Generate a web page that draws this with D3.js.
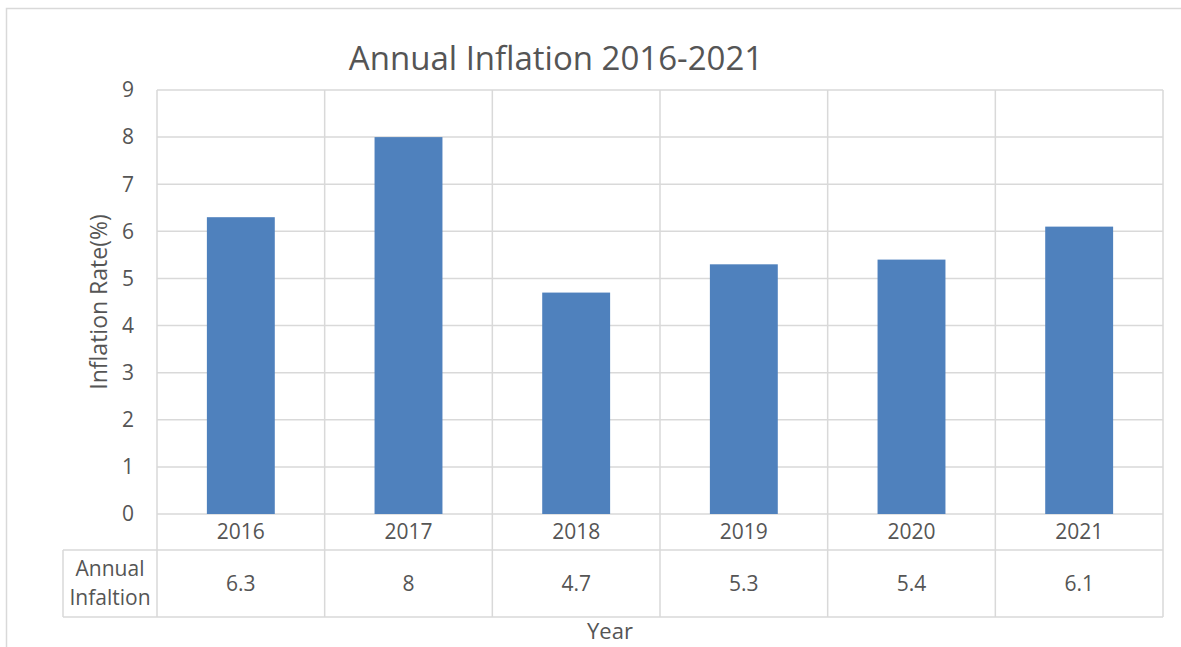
<!DOCTYPE html>
<html>
<head>
<meta charset="utf-8">
<script src="https://cdn.jsdelivr.net/npm/d3@7"></script>
<style>
  body { margin: 0; background: #fff; }
  svg { display: block; font-family: "Open Sans", sans-serif; }
</style>
</head>
<body>
<svg id="chart" width="1181" height="647"></svg>
<script>
// chart data
const years = ['2016', '2017', '2018', '2019', '2020', '2021'];
const inflation = [6.3, 8, 4.7, 5.3, 5.4, 6.1];
const yTicks = [0, 1, 2, 3, 4, 5, 6, 7, 8, 9];
const rowName = ['Annual', 'Infaltion'];

const svg = d3.select('#chart');
const textColor = '#555555';
const gridColor = '#d9d9d9';
const barColor = '#4f81bd';

const plot = { left: 157, right: 1163, top: 90, bottom: 514 };
const table = { left: 63, mid: 550, bottom: 617 };

// outer chart border (clipped by the picture on the right and bottom)
svg.append('path')
  .attr('d', 'M6.5,660 V8.5 H1200')
  .attr('fill', 'none')
  .attr('stroke', gridColor)
  .attr('stroke-width', 1.5);

const x = d3.scaleBand().domain(years).range([plot.left, plot.right]).padding(0);
const y = d3.scaleLinear().domain([0, 9]).range([plot.bottom, plot.top]);

// horizontal grid lines
svg.append('g')
  .selectAll('line')
  .data(yTicks)
  .join('line')
  .attr('x1', plot.left)
  .attr('x2', plot.right)
  .attr('y1', d => y(d))
  .attr('y2', d => y(d))
  .attr('stroke', gridColor)
  .attr('stroke-width', 1.5);

// vertical category lines, running down through the year row and the data table
const bounds = years.map(d => x(d)).concat([plot.right]);
svg.append('g')
  .selectAll('line')
  .data(bounds)
  .join('line')
  .attr('x1', d => d)
  .attr('x2', d => d)
  .attr('y1', plot.top)
  .attr('y2', table.bottom)
  .attr('stroke', gridColor)
  .attr('stroke-width', 1.5);

// table borders
svg.append('g')
  .selectAll('line')
  .data([table.mid, table.bottom])
  .join('line')
  .attr('x1', table.left)
  .attr('x2', plot.right)
  .attr('y1', d => d)
  .attr('y2', d => d)
  .attr('stroke', gridColor)
  .attr('stroke-width', 1.5);
svg.append('line')
  .attr('x1', table.left).attr('x2', table.left)
  .attr('y1', table.mid).attr('y2', table.bottom)
  .attr('stroke', gridColor)
  .attr('stroke-width', 1.5);

// bars
const barW = x.bandwidth() * 0.405;
svg.append('g')
  .selectAll('rect')
  .data(years)
  .join('rect')
  .attr('x', d => x(d) + (x.bandwidth() - barW) / 2)
  .attr('width', barW)
  .attr('y', (d, i) => y(inflation[i]))
  .attr('height', (d, i) => y(0) - y(inflation[i]))
  .attr('fill', barColor);

// y axis tick labels
svg.append('g')
  .selectAll('text')
  .data(yTicks)
  .join('text')
  .attr('x', 134)
  .attr('y', d => y(d))
  .attr('dy', '0.35em')
  .attr('text-anchor', 'end')
  .attr('fill', textColor)
  .attr('font-size', 21)
  .text(d => d);

// year row labels
svg.append('g')
  .selectAll('text')
  .data(years)
  .join('text')
  .attr('x', d => x(d) + x.bandwidth() / 2)
  .attr('y', (plot.bottom + table.mid) / 2)
  .attr('dy', '0.35em')
  .attr('text-anchor', 'middle')
  .attr('fill', textColor)
  .attr('font-size', 21)
  .text(d => d);

// data table values
svg.append('g')
  .selectAll('text')
  .data(years)
  .join('text')
  .attr('x', d => x(d) + x.bandwidth() / 2)
  .attr('y', (table.mid + table.bottom) / 2)
  .attr('dy', '0.35em')
  .attr('text-anchor', 'middle')
  .attr('fill', textColor)
  .attr('font-size', 21)
  .text((d, i) => inflation[i]);

// row header
svg.append('text')
  .attr('text-anchor', 'middle')
  .attr('fill', textColor)
  .attr('font-size', 21)
  .selectAll('tspan')
  .data(rowName)
  .join('tspan')
  .attr('x', (table.left + plot.left) / 2)
  .attr('y', (d, i) => 576 + i * 29)
  .text(d => d);

// title
svg.append('text')
  .attr('x', 556)
  .attr('y', 70)
  .attr('text-anchor', 'middle')
  .attr('fill', textColor)
  .attr('font-size', 33)
  .text('Annual Inflation 2016-2021');

// axis titles
svg.append('text')
  .attr('transform', `translate(107,${(plot.top + plot.bottom) / 2}) rotate(-90)`)
  .attr('text-anchor', 'middle')
  .attr('fill', textColor)
  .attr('font-size', 23)
  .text('Inflation Rate(%)');

svg.append('text')
  .attr('x', 610)
  .attr('y', 639)
  .attr('text-anchor', 'middle')
  .attr('fill', textColor)
  .attr('font-size', 22)
  .text('Year');
</script>
</body>
</html>
